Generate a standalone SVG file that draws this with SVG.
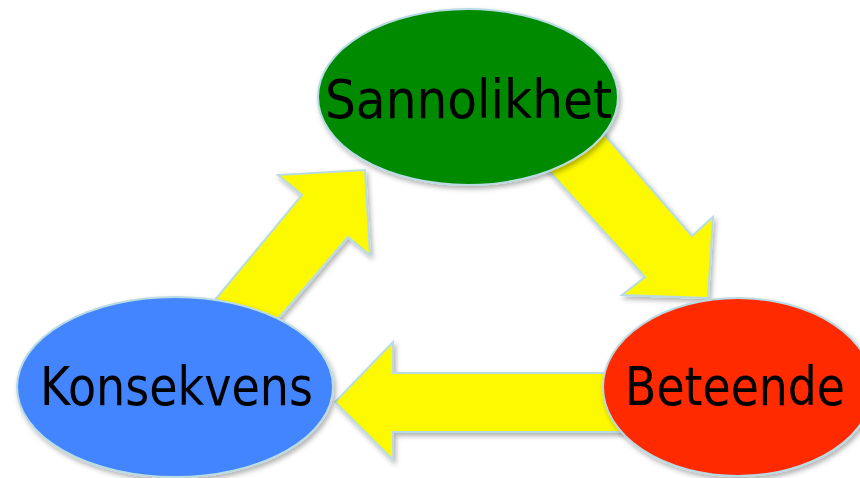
<svg xmlns="http://www.w3.org/2000/svg" width="860" height="478" viewBox="0 0 860 478">
<defs>
<filter id="sh" x="-20%" y="-20%" width="140%" height="140%">
<feDropShadow dx="2" dy="3" stdDeviation="2.5" flood-color="#000" flood-opacity="0.3"/>
</filter>
</defs>
<style>
.arrow{fill:#fcf900;stroke:#b9dbe3;stroke-width:2;stroke-linejoin:miter;filter:url(#sh)}
.node{stroke:#b9dbe3;stroke-width:2;filter:url(#sh)}
.label{font-family:"DejaVu Sans","Liberation Sans",sans-serif;font-size:54px;fill:#000;text-anchor:start}
</style>
<rect width="860" height="478" fill="#fff"/>
<g id="connectors">
<polygon class="arrow" points="585,112 692,236 713,217 708,298 622,295 645,277 530,150"/>
<polygon class="arrow" points="640,373 393,373 393,342 335,402 393,460 393,432 640,432"/>
<polygon class="arrow" points="190,330 302,195 278,175 365,170 370,255 348,237 260,340"/>
</g>
<g id="sannolikhet">
<ellipse class="node" cx="468" cy="97" rx="150" ry="88" fill="#008a00"/>
<text class="label" x="325" y="118" textLength="287" lengthAdjust="spacingAndGlyphs">Sannolikhet</text>
</g>
<g id="beteende">
<ellipse class="node" cx="738" cy="387" rx="135" ry="89" fill="#ff2a00"/>
<text class="label" x="625" y="405" textLength="220" lengthAdjust="spacingAndGlyphs">Beteende</text>
</g>
<g id="konsekvens">
<ellipse class="node" cx="175" cy="387" rx="158" ry="90" fill="#4285ff"/>
<text class="label" x="40" y="405" textLength="273" lengthAdjust="spacingAndGlyphs">Konsekvens</text>
</g>
</svg>
